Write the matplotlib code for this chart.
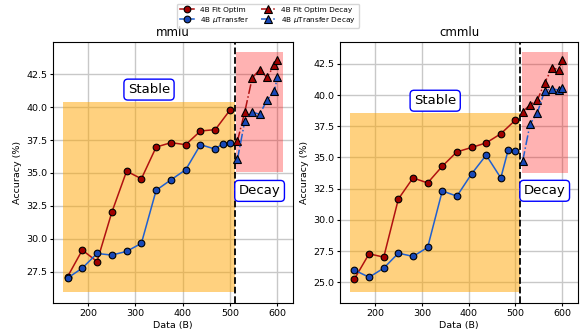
import matplotlib
matplotlib.use("Agg")
import matplotlib.pyplot as plt
import numpy as np

# ---- data ----
x_stable = [156.25, 187.5, 218.75, 250, 281.25, 312.5, 343.75, 375, 406.25, 437.5, 468.75, 500]
x_stable_mu = [156.25, 187.5, 218.75, 250, 281.25, 312.5, 343.75, 375, 406.25, 437.5, 468.75, 484.4, 500]
x_decay = [515.6, 531.25, 546.9, 562.5, 578.1, 593.75, 600]

mmlu_fit = [27.12, 29.15, 28.28, 32.02, 35.14, 34.56, 36.97, 37.3, 37.15, 38.19, 38.29, 39.78]
mmlu_mu = [27.02, 27.78, 28.89, 28.77, 29.05, 29.66, 33.69, 34.48, 35.25, 37.15, 36.81, 37.23, 37.3]
mmlu_fit_decay = [37.42, 39.66, 42.22, 42.84, 42.25, 43.22, 43.55]
mmlu_mu_decay = [36.04, 38.96, 39.63, 39.45, 40.52, 41.21, 42.28]

cmmlu_fit = [25.27, 27.28, 27.01, 31.67, 33.36, 32.96, 34.3, 35.45, 35.8, 36.17, 36.9, 38.0]
cmmlu_mu = [25.97, 25.4, 26.13, 27.33, 27.07, 27.79, 32.32, 31.9, 33.68, 35.19, 33.36, 35.59, 35.5]
cmmlu_fit_decay = [38.68, 39.22, 39.61, 41.0, 42.16, 42.05, 42.82]
cmmlu_mu_decay = [34.73, 37.68, 38.6, 40.35, 40.52, 40.38, 40.6]

titles = ["mmlu", "cmmlu"]
split_x = 510

RED_LINE = "#b01010"
RED_MK = "#a00000"
BLUE_LINE = "#2060d0"
BLUE_MK = "#1848b8"

fig = plt.figure(figsize=(5.8, 3.36), dpi=100)
axes = [fig.add_axes([0.092, 0.099, 0.413, 0.777]),
        fig.add_axes([0.587, 0.099, 0.409, 0.777])]

datasets = [
    (mmlu_fit, mmlu_mu, mmlu_fit_decay, mmlu_mu_decay),
    (cmmlu_fit, cmmlu_mu, cmmlu_fit_decay, cmmlu_mu_decay),
]

handles = None
for ax, title, (fit, mu, fitd, mud) in zip(axes, titles, datasets):
    s_min = min(min(fit), min(mu))
    s_max = max(max(fit), max(mu))
    d_min = min(min(fitd), min(mud))
    d_max = max(max(fitd), max(mud))
    x0 = min(x_stable) - 9
    x1 = max(x_decay) + 12
    lo, hi = s_min - 1.05, d_max + 0.6
    ax.fill_between([x0, split_x], lo, s_max + 0.6,
                    color="orange", alpha=0.5, linewidth=0, zorder=1)
    ax.fill_between([split_x + 3, x1], d_min - 1.0, hi,
                    color="red", alpha=0.3, linewidth=0, zorder=1)
    ax.axvline(split_x, color="black", linestyle="--", linewidth=1.3, zorder=2)

    h1, = ax.plot(x_stable, fit, "-o", color=RED_LINE, mfc=RED_MK, mec="black",
                  mew=0.8, ms=4.8, lw=1.1, label="4B Fit Optim", zorder=3)
    h2, = ax.plot(x_stable_mu, mu, "-o", color=BLUE_LINE, mfc=BLUE_MK, mec="black",
                  mew=0.8, ms=4.8, lw=1.1, label="4B $\\mu$Transfer", zorder=3)
    h3, = ax.plot(x_decay, fitd, "-.^", color=RED_LINE, mfc=RED_MK, mec="black",
                  mew=0.8, ms=5.3, lw=1.1, label="4B Fit Optim Decay", zorder=3)
    h4, = ax.plot(x_decay, mud, "-.^", color=BLUE_LINE, mfc=BLUE_MK, mec="black",
                  mew=0.8, ms=5.3, lw=1.1, label="4B $\\mu$Transfer Decay", zorder=3)
    handles = [h1, h2, h3, h4]

    xr = x1 - x0
    yr = hi - lo
    ax.set_xlim(x0 - 0.045 * xr, x1 + 0.045 * xr)
    ax.set_ylim(lo - 0.045 * yr, hi + 0.045 * yr)

    ax.text((x0 + split_x) / 2, s_max + 1.55, "Stable", ha="center", va="center",
            fontsize=9.5, zorder=5,
            bbox=dict(boxstyle="round,pad=0.3", fc="white", ec="blue", lw=1))
    ax.text((split_x + x1 + 3) / 2, d_min - 2.4, "Decay", ha="center",
            va="center", fontsize=9.5, zorder=5,
            bbox=dict(boxstyle="round,pad=0.3", fc="white", ec="blue", lw=1))

    ax.set_title(title, fontsize=8.5, pad=4)
    ax.set_xlabel("Data (B)", fontsize=6.8, labelpad=2)
    ax.set_ylabel("Accuracy (%)", fontsize=6.8, labelpad=3)
    ax.tick_params(labelsize=6.8, length=2.5, pad=2)
    ax.set_xticks([200, 300, 400, 500, 600])
    ax.yaxis.set_major_locator(matplotlib.ticker.MultipleLocator(2.5))
    ax.grid(True, color="#c8c8c8", linewidth=1)
    ax.set_axisbelow(True)

fig.legend(handles=handles, loc="upper center", bbox_to_anchor=(0.462, 1.0),
           ncol=2, fontsize=5.3, frameon=True, handlelength=2.0,
           borderpad=0.4, labelspacing=0.3, columnspacing=1.5)

fig.savefig("out.png", dpi=100)
